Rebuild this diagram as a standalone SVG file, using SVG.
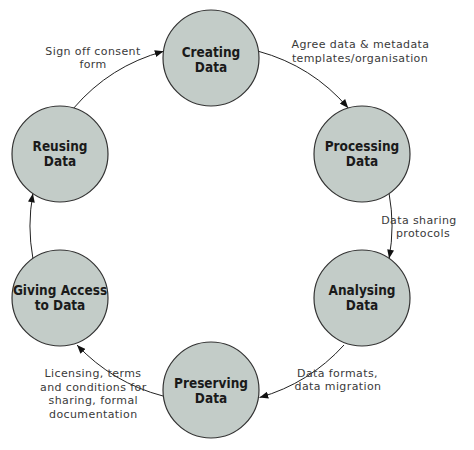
<svg xmlns="http://www.w3.org/2000/svg" width="474" height="450" viewBox="0 0 474 450">
<defs>
<marker id="arr" viewBox="0 0 10 8" refX="10" refY="4" markerWidth="9" markerHeight="7" markerUnits="userSpaceOnUse" orient="auto">
<path d="M0,0 L10,4 L0,8 Z" fill="#111"/>
</marker>
<style>
.node{fill:#c3ccc8;stroke:#333;stroke-width:1.2}
.nt{font-family:"DejaVu Sans","Liberation Sans",sans-serif;font-weight:bold;font-size:13.5px;fill:#1a1a1a;text-anchor:middle}
.lbl{font-family:"DejaVu Sans","Liberation Sans",sans-serif;font-size:11px;letter-spacing:0.4px;fill:#3a3a3a;text-anchor:middle}
.edge{fill:none;stroke:#222;stroke-width:1;marker-end:url(#arr)}
</style>
</defs>
<rect width="474" height="450" fill="#fff"/>
<g id="connectors">
<path class="edge" d="M73.8,108 A181,181 0 0 1 163.6,51.3"/>
<path class="edge" d="M258.5,51.3 A181,181 0 0 1 348.2,108"/>
<path class="edge" d="M389.1,193.6 A181,181 0 0 1 389.1,258.4"/>
<path class="edge" d="M344,345 A181,181 0 0 1 259.5,397.5"/>
<path class="edge" d="M163,396 A181,181 0 0 1 77,345"/>
<path class="edge" d="M32.9,258.4 A181,181 0 0 1 32.9,193.6"/>
</g>
<g id="creating">
<circle class="node" cx="211" cy="58" r="48"/>
<g transform="translate(211 0) scale(0.9 1)"><text class="nt" x="0" y="57">Creating</text><text class="nt" x="0" y="72">Data</text></g>
</g>
<g id="processing">
<circle class="node" cx="362" cy="154" r="48"/>
<g transform="translate(362 0) scale(0.9 1)"><text class="nt" x="0" y="151.5">Processing</text><text class="nt" x="0" y="166.5">Data</text></g>
</g>
<g id="analysing">
<circle class="node" cx="362" cy="298" r="48"/>
<g transform="translate(362 0) scale(0.9 1)"><text class="nt" x="0" y="295">Analysing</text><text class="nt" x="0" y="310">Data</text></g>
</g>
<g id="preserving">
<circle class="node" cx="211" cy="390" r="48"/>
<g transform="translate(211 0) scale(0.9 1)"><text class="nt" x="0" y="388">Preserving</text><text class="nt" x="0" y="403">Data</text></g>
</g>
<g id="giving">
<circle class="node" cx="60" cy="298" r="48"/>
<g transform="translate(60 0) scale(0.9 1)"><text class="nt" x="0" y="295">Giving Access</text><text class="nt" x="0" y="310">to Data</text></g>
</g>
<g id="reusing">
<circle class="node" cx="60" cy="154" r="48"/>
<g transform="translate(60 0) scale(0.9 1)"><text class="nt" x="0" y="151.5">Reusing</text><text class="nt" x="0" y="166.5">Data</text></g>
</g>
<g id="labels">
<text class="lbl" x="93" y="55">Sign off consent</text>
<text class="lbl" x="93" y="68">form</text>
<text class="lbl" x="360.5" y="48">Agree data &amp; metadata</text>
<text class="lbl" x="360" y="61.5">templates/organisation</text>
<text class="lbl" x="419" y="223.5">Data sharing</text>
<text class="lbl" x="423" y="236.5">protocols</text>
<text class="lbl" x="337.5" y="376.5">Data formats,</text>
<text class="lbl" x="338" y="390">data migration</text>
<text class="lbl" x="93" y="377">Licensing, terms</text>
<text class="lbl" x="93.3" y="390.5">and conditions for</text>
<text class="lbl" x="93.3" y="404">sharing, formal</text>
<text class="lbl" x="93.3" y="417.5">documentation</text>
</g>
</svg>
